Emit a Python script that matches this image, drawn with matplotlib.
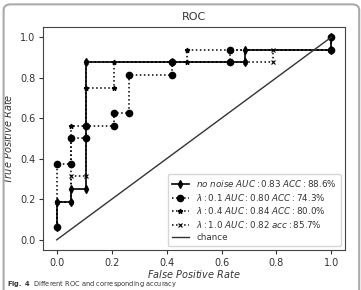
import matplotlib
matplotlib.use('Agg')
import matplotlib.pyplot as plt
from matplotlib.patches import FancyBboxPatch

# ---- data ----
fpr_base = [0.0, 0.0, 0.0526, 0.0526, 0.105, 0.105, 0.421, 0.684, 0.684, 1.0, 1.0]
tpr_base = [0.0625, 0.1875, 0.1875, 0.25, 0.25, 0.875, 0.875, 0.875, 0.9375, 0.9375, 1.0]

fpr_l01 = [0.0, 0.0, 0.0526, 0.0526, 0.105, 0.105, 0.21, 0.21, 0.263, 0.263, 0.421, 0.421, 0.632, 0.632, 1.0, 1.0]
tpr_l01 = [0.0625, 0.375, 0.375, 0.5, 0.5, 0.5625, 0.5625, 0.625, 0.625, 0.8125, 0.8125, 0.875, 0.875, 0.9375, 0.9375, 1.0]

fpr_l04 = [0.0, 0.0, 0.0526, 0.0526, 0.105, 0.105, 0.21, 0.21, 0.474, 0.474, 1.0, 1.0]
tpr_l04 = [0.0625, 0.1875, 0.1875, 0.5625, 0.5625, 0.75, 0.75, 0.875, 0.875, 0.9375, 0.9375, 1.0]

fpr_l10 = [0.0, 0.0, 0.0526, 0.0526, 0.105, 0.105, 0.684, 0.789, 0.789, 1.0, 1.0]
tpr_l10 = [0.0625, 0.1875, 0.1875, 0.3125, 0.3125, 0.875, 0.875, 0.875, 0.9375, 0.9375, 1.0]

labels = [r'$no\ noise\ AUC:0.83\ ACC:88.6\%$',
          r'$\lambda:0.1\ AUC:0.80\ ACC:74.3\%$',
          r'$\lambda:0.4\ AUC:0.84\ ACC:80.0\%$',
          r'$\lambda:1.0\ AUC:0.82\ acc:85.7\%$']

plt.rcParams['font.size'] = 7
plt.rcParams['mathtext.fontset'] = 'dejavusans'

fig = plt.figure(figsize=(3.61, 2.90), dpi=100)
ax = fig.add_axes([0.119, 0.138, 0.837, 0.769])

ax.plot(fpr_base, tpr_base, color='black', linestyle='-', linewidth=1.2,
        marker='d', markersize=4, label=labels[0])
ax.plot(fpr_l01, tpr_l01, color='black', linestyle=':', linewidth=1.1,
        marker='o', markersize=4.5, label=labels[1])
ax.plot(fpr_l04, tpr_l04, color='black', linestyle=':', linewidth=1.1,
        marker='*', markersize=3.5, label=labels[2])
ax.plot(fpr_l10, tpr_l10, color='black', linestyle=':', linewidth=1.1,
        marker='x', markersize=3.5, markeredgewidth=0.8, label=labels[3])
ax.plot([0, 1], [0, 1], color='#333333', linewidth=1.0, label='chance')

ax.set_xlim(-0.05, 1.05)
ax.set_ylim(-0.05, 1.05)
ax.set_xticks([0.0, 0.2, 0.4, 0.6, 0.8, 1.0])
ax.set_yticks([0.0, 0.2, 0.4, 0.6, 0.8, 1.0])
ax.tick_params(labelsize=7, length=3, pad=2.5, colors='#333333')
for s in ax.spines.values():
    s.set_color('#444444')

ax.set_title('ROC', fontsize=8, color='#333333', pad=5)
ax.set_xlabel(r'$False\ Positive\ Rate$', fontsize=7, color='#333333', labelpad=0.5)
ax.set_ylabel(r'$True\ Positive\ Rate$', fontsize=7, color='#333333', labelpad=4)

leg = ax.legend(loc='lower right', fontsize=6.3, handlelength=2.0,
                labelspacing=0.3, borderpad=0.45, borderaxespad=0.5)
for t in leg.get_texts():
    t.set_color('#333333')

# rounded frame round the figure
frame = FancyBboxPatch((0.01, -0.05), 0.985, 1.035, transform=fig.transFigure,
                       boxstyle='round,pad=0,rounding_size=0.02',
                       facecolor='none', edgecolor='#aaaaaa', linewidth=1.5)
fig.patches.append(frame)

fig.text(0.02, 0.003, r'$\bf{Fig.\ 4}$  Different ROC and corresponding accuracy',
         fontsize=4.8, color='#333333', va='bottom', ha='left')

fig.savefig('out.png', dpi=100)
